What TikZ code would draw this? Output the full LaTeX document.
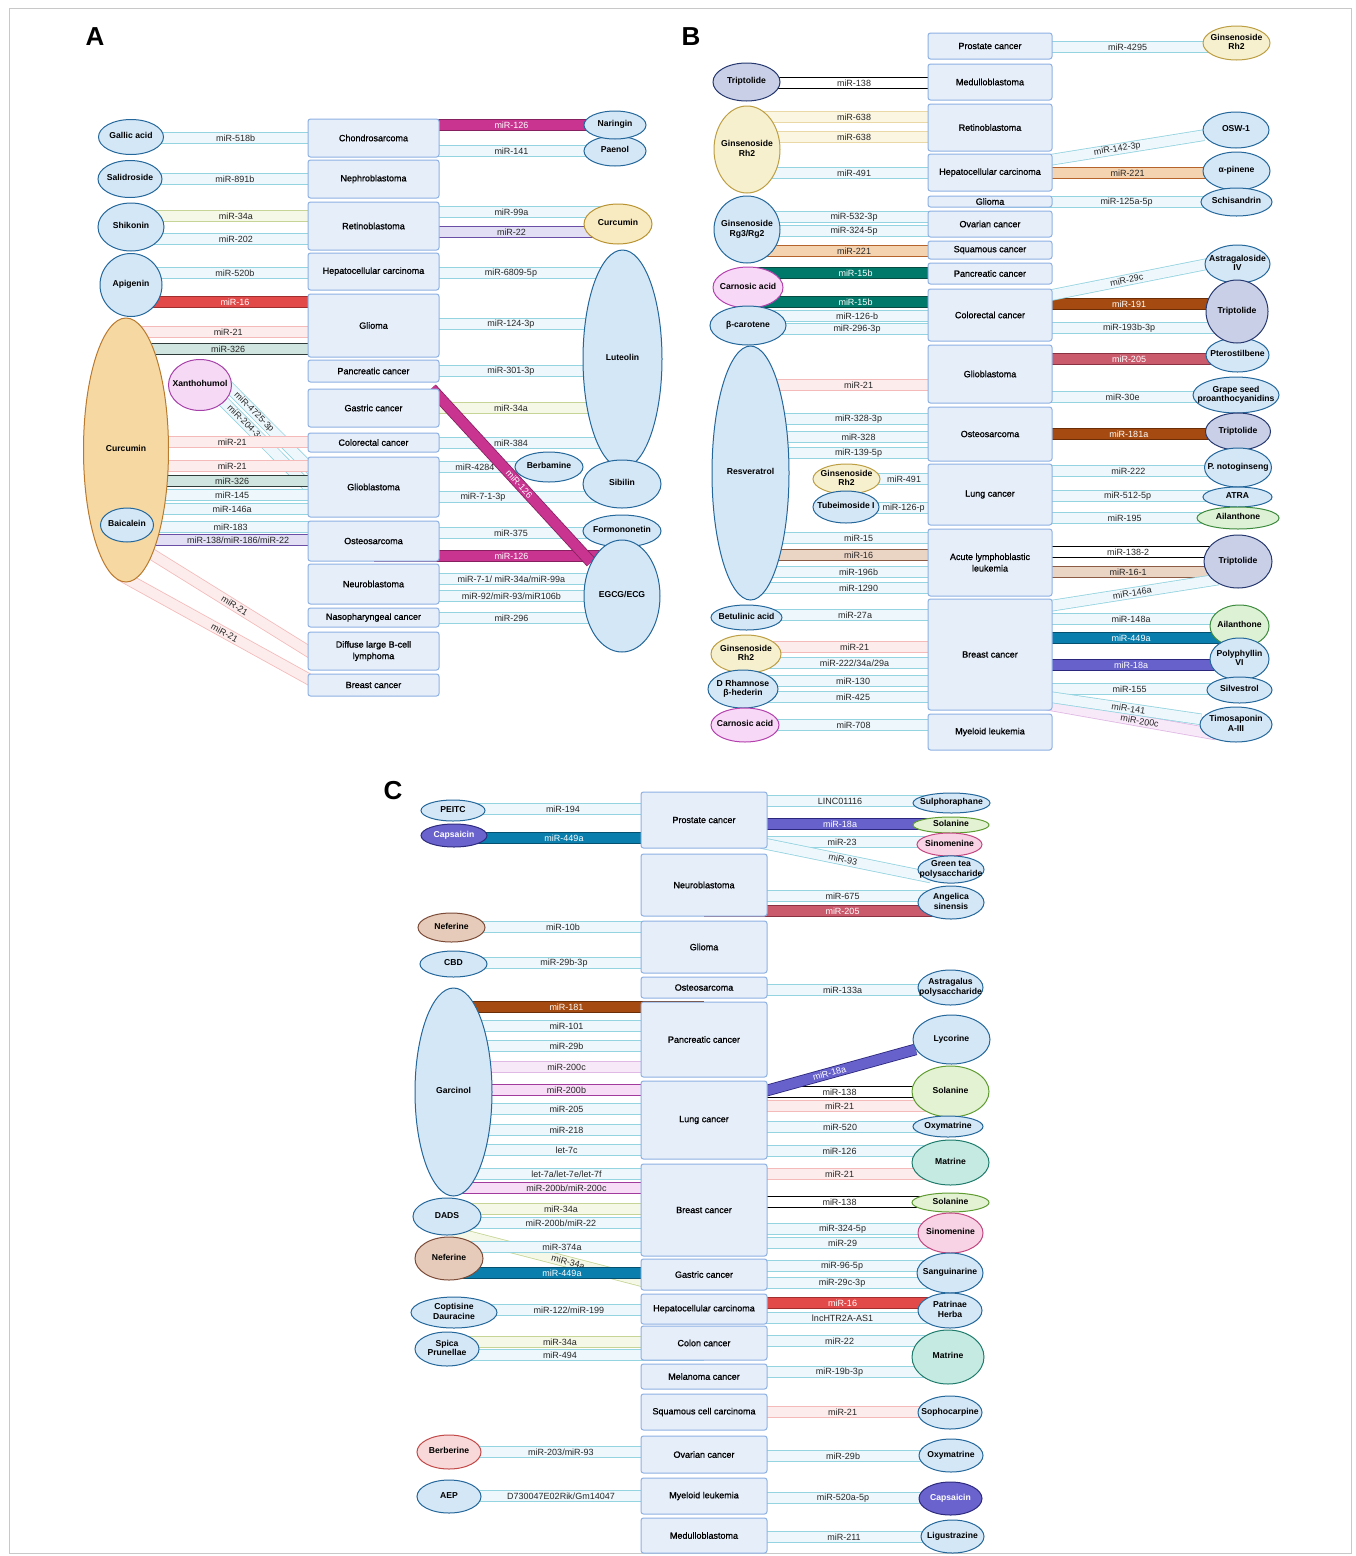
\documentclass[tikz,border=0pt]{standalone}
\usepackage{fontspec}
\setmainfont{Liberation Sans}
\newfontfamily\disfont{Liberation Sans}[FakeBold=1.1]
\usetikzlibrary{shapes.geometric}
\usetikzlibrary{backgrounds}

\definecolor{disfill}{HTML}{E6EEFA}
\definecolor{disline}{HTML}{8EB1E3}
\definecolor{cmpfill}{HTML}{D4E7F7}
\definecolor{cmpline}{HTML}{24679A}
\definecolor{ltfill}{HTML}{EEF8FC}
\definecolor{ltline}{HTML}{94D3E0}
\definecolor{pkfill}{HTML}{FDECEC}
\definecolor{pkline}{HTML}{F4B9B9}
\definecolor{ylfill}{HTML}{F6F8E7}
\definecolor{ylline}{HTML}{C6D596}
\definecolor{redfill}{HTML}{E24A4A}
\definecolor{redline}{HTML}{A12E2E}
\definecolor{magfill}{HTML}{C83490}
\definecolor{magline}{HTML}{86205F}
\definecolor{lavfill}{HTML}{E2DEF4}
\definecolor{lavline}{HTML}{6A4EA6}
\definecolor{sgfill}{HTML}{D0E5DF}
\definecolor{sgline}{HTML}{2F3B38}
\definecolor{crfill}{HTML}{FBF6E2}
\definecolor{crline}{HTML}{EAD9A6}
\definecolor{orfill}{HTML}{F4D3B1}
\definecolor{orline}{HTML}{B5622B}
\definecolor{tlfill}{HTML}{00796B}
\definecolor{tlline}{HTML}{074A42}
\definecolor{brfill}{HTML}{A54A10}
\definecolor{brline}{HTML}{6B2D06}
\definecolor{rsfill}{HTML}{C95B6D}
\definecolor{rsline}{HTML}{8B3242}
\definecolor{bgfill}{HTML}{EAD4C4}
\definecolor{bgline}{HTML}{8B5B46}
\definecolor{bufill}{HTML}{0A7EAD}
\definecolor{buline}{HTML}{05506E}
\definecolor{infill}{HTML}{6761CC}
\definecolor{inline}{HTML}{2B277C}
\definecolor{lifill}{HTML}{F8E9F8}
\definecolor{liline}{HTML}{E0B9E5}
\definecolor{pbfill}{HTML}{F7DDF6}
\definecolor{pbline}{HTML}{A23A9D}
\definecolor{curfill}{HTML}{F6D8A2}
\definecolor{curline}{HTML}{B97A2E}
\definecolor{cu2fill}{HTML}{F8EBC2}
\definecolor{cu2line}{HTML}{B99331}
\definecolor{xanfill}{HTML}{F6D9F5}
\definecolor{xanline}{HTML}{A641A9}
\definecolor{rh2fill}{HTML}{F7F0CF}
\definecolor{rh2line}{HTML}{BC9E43}
\definecolor{trifill}{HTML}{C8CFE6}
\definecolor{triline}{HTML}{26386F}
\definecolor{carfill}{HTML}{F7D8F6}
\definecolor{carline}{HTML}{B441AE}
\definecolor{ailfill}{HTML}{DDF1D5}
\definecolor{ailline}{HTML}{3D8B3D}
\definecolor{solfill}{HTML}{E3F2D3}
\definecolor{solline}{HTML}{5E9C31}
\definecolor{sinfill}{HTML}{F8D3E5}
\definecolor{sinline}{HTML}{C2467F}
\definecolor{capfill}{HTML}{6A63CE}
\definecolor{capline}{HTML}{2D2A7E}
\definecolor{neffill}{HTML}{E6CBBA}
\definecolor{nefline}{HTML}{7C4B37}
\definecolor{berfill}{HTML}{F8D8D8}
\definecolor{berline}{HTML}{C34848}
\definecolor{matfill}{HTML}{C5EAE2}
\definecolor{matline}{HTML}{1F7C6C}
\definecolor{framec}{HTML}{C8C8C8}

% centred text that does not widen the ellipse
\newcommand\cl[1]{\makebox[0pt]{\begin{tabular}{@{}c@{}}#1\end{tabular}}}
% [label options]{band style}{left node}{right node}{y}{label}
\newcommand\band[6][]{%
  \draw[#2] (#3 |- 0,#5) -- (#4 |- 0,#5);
  \path (#3.east |- 0,#5) -- (#4.west |- 0,#5) node[midway, mlab, #1] {#6};}

\tikzset{
    dis_box/.style = {rectangle, rounded corners=2.5pt, draw=disline, fill=disfill, line width=1pt, align=center, inner sep=1pt, font=\disfont\fontsize{9}{11.5}\selectfont},
    dis_a/.style = {dis_box, minimum width=131, minimum height=#1},
    dis_b/.style = {dis_box, minimum width=124, minimum height=#1},
    dis_c/.style = {dis_box, minimum width=126, minimum height=#1},
    cmp/.style 2 args = {ellipse, draw=cmpline, fill=cmpfill, line width=1pt, minimum width=#1, minimum height=#2, inner sep=0pt, font=\bfseries\fontsize{8.6}{9.6}\selectfont},
    in_cur/.style = {draw=curline, fill=curfill},
    in_cu2/.style = {draw=cu2line, fill=cu2fill},
    in_xan/.style = {draw=xanline, fill=xanfill},
    in_rh2/.style = {draw=rh2line, fill=rh2fill},
    in_tri/.style = {draw=triline, fill=trifill},
    in_car/.style = {draw=carline, fill=carfill},
    in_ail/.style = {draw=ailline, fill=ailfill},
    in_sol/.style = {draw=solline, fill=solfill},
    in_sin/.style = {draw=sinline, fill=sinfill},
    in_cap/.style = {draw=capline, fill=capfill, text=white},
    in_nef/.style = {draw=nefline, fill=neffill},
    in_ber/.style = {draw=berline, fill=berfill},
    in_mat/.style = {draw=matline, fill=matfill},
    mlab/.style = {font=\fontsize{9}{9.5}\selectfont, inner sep=0pt, text=black!85},
    band/.style = {line width=0.8pt, double distance=10pt},
    band_lt/.style = {band, draw=ltline, double=ltfill},
    band_pk/.style = {band, draw=pkline, double=pkfill},
    band_yl/.style = {band, draw=ylline, double=ylfill},
    band_red/.style = {band, draw=redline, double=redfill},
    band_mag/.style = {band, draw=magline, double=magfill},
    band_lav/.style = {band, draw=lavline, double=lavfill},
    band_sg/.style = {band, draw=sgline, double=sgfill},
    band_cr/.style = {band, draw=crline, double=crfill},
    band_or/.style = {band, draw=orline, double=orfill},
    band_tl/.style = {band, draw=tlline, double=tlfill},
    band_wt/.style = {band, draw=black, double=white},
    band_br/.style = {band, draw=brline, double=brfill},
    band_rs/.style = {band, draw=rsline, double=rsfill},
    band_bg/.style = {band, draw=bgline, double=bgfill},
    band_bu/.style = {band, draw=buline, double=bufill},
    band_in/.style = {band, draw=inline, double=infill},
    band_li/.style = {band, draw=liline, double=lifill},
    band_pb/.style = {band, draw=pbline, double=pbfill},
    panel/.style = {font=\bfseries\fontsize{26}{28}\selectfont}
}

\begin{document}
\begin{tikzpicture}[x=1pt, y=-1pt]
\useasboundingbox (0,0) rectangle (1356,1556);
\draw[framec, line width=0.8pt] (9,8) rectangle (1351,1553);

%% ---------------- A ----------------
\node[panel] (lab-a) at (95,37) {A};
\node[dis_a=38] (a-chondro) at (373.5,138) {Chondrosarcoma};
\node[dis_a=38] (a-nephro) at (373.5,179) {Nephroblastoma};
\node[dis_a=48] (a-retino) at (373.5,226) {Retinoblastoma};
\node[dis_a=37] (a-hcc) at (373.5,271.5) {Hepatocellular carcinoma};
\node[dis_a=63] (a-glioma) at (373.5,325.5) {Glioma};
\node[dis_a=22] (a-panc) at (373.5,371) {Pancreatic cancer};
\node[dis_a=38] (a-gastric) at (373.5,408) {Gastric cancer};
\node[dis_a=19] (a-crc) at (373.5,442.5) {Colorectal cancer};
\node[dis_a=60] (a-gbm) at (373.5,487) {Glioblastoma};
\node[dis_a=40] (a-osteo) at (373.5,541) {Osteosarcoma};
\node[dis_a=40] (a-neuro) at (373.5,584) {Neuroblastoma};
\node[dis_a=19] (a-naso) at (373.5,617.5) {Nasopharyngeal cancer};
\node[dis_a=38] (a-dlbcl) at (373.5,651) {Diffuse large B-cell\\lymphoma};
\node[dis_a=22] (a-breast) at (373.5,685) {Breast cancer};

\node[cmp={65}{35}] (a-gallic) at (131,137) {\cl{Gallic acid}};
\node[cmp={64}{37}] (a-salid) at (130,179) {\cl{Salidroside}};
\node[cmp={66}{48}] (a-shik) at (131,227) {\cl{Shikonin}};
\node[cmp={62}{63}] (a-api) at (131,285) {\cl{Apigenin}};
\node[cmp={85}{264}, in_cur] (a-cur) at (126,450) {\cl{Curcumin}};
\node[cmp={63}{51}, in_xan] (a-xan) at (200,385) {\cl{Xanthohumol}};
\node[cmp={53}{34}] (a-bai) at (127,525) {\cl{Baicalein}};

\node[cmp={62}{30}] (a-pae) at (615,151) {\cl{Paenol}};
\node[cmp={62}{28}] (a-nar) at (615,125) {\cl{Naringin}};
\node[cmp={68}{40}, in_cu2] (a-cur2) at (618,224) {\cl{Curcumin}};
\node[cmp={79}{218}] (a-lut) at (622.5,359) {\cl{Luteolin}};
\node[cmp={68}{30}] (a-berb) at (549,467) {\cl{Berbamine}};
\node[cmp={78}{48}] (a-sib) at (622,484) {\cl{Sibilin}};
\node[cmp={78}{32}] (a-form) at (622,531) {\cl{Formononetin}};
\node[cmp={76}{112}] (a-egcg) at (622,596) {\cl{EGCG/ECG}};

%% ---------------- B ----------------
\node[panel] (lab-b) at (691,37) {B};
\node[dis_b=26] (b-prost) at (990,46) {Prostate cancer};
\node[dis_b=36] (b-medullo) at (990,82) {Medulloblastoma};
\node[dis_b=47] (b-retino) at (990,127.5) {Retinoblastoma};
\node[dis_b=37] (b-hcc) at (990,172.5) {Hepatocellular carcinoma};
\node[dis_b=11] (b-glioma) at (990,201.5) {Glioma};
\node[dis_b=26] (b-ovar) at (990,224) {Ovarian cancer};
\node[dis_b=18] (b-squam) at (990,250) {Squamous cancer};
\node[dis_b=21] (b-panc) at (990,273.5) {Pancreatic cancer};
\node[dis_b=52] (b-crc) at (990,315) {Colorectal cancer};
\node[dis_b=58] (b-gbm) at (990,374) {Glioblastoma};
\node[dis_b=54] (b-osteo) at (990,434) {Osteosarcoma};
\node[dis_b=61] (b-lung) at (990,494.5) {Lung cancer};
\node[dis_b=67] (b-all) at (990,562.5) {Acute lymphoblastic\\leukemia};
\node[dis_b=111] (b-breast) at (990,654.5) {Breast cancer};
\node[dis_b=36] (b-myel) at (990,732) {Myeloid leukemia};

\node[cmp={67}{38}, in_tri] (b-tripl) at (746.5,82) {\cl{Triptolide}};
\node[cmp={66}{87}, in_rh2] (b-rh2) at (747,149.5) {\cl{Ginsenoside\\Rh2}};
\node[cmp={66}{67}] (b-rg3) at (747,229.5) {\cl{Ginsenoside\\Rg3/Rg2}};
\node[cmp={70}{41}, in_car] (b-carn) at (748,287.5) {\cl{Carnosic acid}};
\node[cmp={76}{39}] (b-bcar) at (748,325.5) {\cl{β-carotene}};
\node[cmp={77}{254}] (b-res) at (750.5,473) {\cl{Resveratrol}};
\node[cmp={67}{30}, in_rh2] (b-rh2b) at (846.5,479) {\cl{Ginsenoside\\Rh2}};
\node[cmp={66}{32}] (b-tube) at (846,507) {\cl{Tubeimoside I}};
\node[cmp={71}{25}] (b-betu) at (746.5,617.5) {\cl{Betulinic acid}};
\node[cmp={70}{38}, in_rh2] (b-rh2c) at (746,654) {\cl{Ginsenoside\\Rh2}};
\node[cmp={70}{38}] (b-rham) at (743,689) {\cl{D Rhamnose\\β-hederin}};
\node[cmp={68}{34}, in_car] (b-carn2) at (745,725) {\cl{Carnosic acid}};

\node[cmp={67}{34}, in_rh2] (b-rh2r) at (1236.5,43) {\cl{Ginsenoside\\Rh2}};
\node[cmp={66}{36}] (b-osw) at (1236,130) {\cl{OSW-1}};
\node[cmp={67}{38}] (b-apin) at (1236.5,171) {\cl{α-pinene}};
\node[cmp={71}{28}] (b-schis) at (1236.5,202) {\cl{Schisandrin}};
\node[cmp={65}{38}] (b-astra) at (1237.5,264) {\cl{Astragaloside\\IV}};
\node[cmp={63}{34}] (b-ptero) at (1237.5,355) {\cl{Pterostilbene}};
\node[cmp={62}{63}, in_tri] (b-tripa) at (1237,311.5) {\cl{Triptolide}};
\node[cmp={86}{36}] (b-grape) at (1236,395) {\cl{Grape seed\\proanthocyanidins}};
\node[cmp={65}{37}, in_tri] (b-tripb) at (1238,431.5) {\cl{Triptolide}};
\node[cmp={67}{39}] (b-pnoto) at (1238,467.5) {\cl{P. notoginseng}};
\node[cmp={69}{20}] (b-atra) at (1237.5,497) {\cl{ATRA}};
\node[cmp={82}{22}, in_ail] (b-ailan) at (1238,518) {\cl{Ailanthone}};
\node[cmp={68}{53}, in_tri] (b-tripc) at (1238,561.5) {\cl{Triptolide}};
\node[cmp={59}{42}, in_ail] (b-ailan2) at (1239.5,626) {\cl{Ailanthone}};
\node[cmp={59}{42}] (b-poly) at (1239.5,659) {\cl{Polyphyllin\\VI}};
\node[cmp={65}{26}] (b-silv) at (1239.5,690) {\cl{Silvestrol}};
\node[cmp={72}{35}] (b-timo) at (1236,724.5) {\cl{Timosaponin\\A-III}};

%% ---------------- C ----------------
\node[panel] (lab-c) at (393,791) {C};
\node[dis_c=56] (c-prost) at (704,820) {Prostate cancer};
\node[dis_c=62] (c-neuro) at (704,885) {Neuroblastoma};
\node[dis_c=52] (c-glioma) at (704,947) {Glioma};
\node[dis_c=21] (c-osteo) at (704,987.5) {Osteosarcoma};
\node[dis_c=75] (c-panc) at (704,1039.5) {Pancreatic cancer};
\node[dis_c=78] (c-lung) at (704,1120) {Lung cancer};
\node[dis_c=92] (c-breast) at (704,1210) {Breast cancer};
\node[dis_c=31] (c-gastric) at (704,1274.5) {Gastric cancer};
\node[dis_c=30] (c-hcc) at (704,1309) {Hepatocellular carcinoma};
\node[dis_c=34] (c-colon) at (704,1343) {Colon cancer};
\node[dis_c=25] (c-melan) at (704,1376.5) {Melanoma cancer};
\node[dis_c=36] (c-squam) at (704,1412) {Squamous cell carcinoma};
\node[dis_c=37] (c-ovar) at (704,1454.5) {Ovarian cancer};
\node[dis_c=36] (c-myel) at (704,1496) {Myeloid leukemia};
\node[dis_c=35] (c-medul) at (704,1535.5) {Medulloblastoma};

\node[cmp={64}{21}] (c-peitc) at (453,810.5) {\cl{PEITC}};
\node[cmp={66}{23}, in_cap] (c-caps) at (454,835.5) {\cl{Capsaicin}};
\node[cmp={67}{29}, in_nef] (c-nef) at (451.5,927.5) {\cl{Neferine}};
\node[cmp={67}{26}] (c-cbd) at (453.5,964) {\cl{CBD}};
\node[cmp={77}{208}] (c-garc) at (453.5,1092) {\cl{Garcinol}};
\node[cmp={68}{37}] (c-dads) at (447,1216.5) {\cl{DADS}};
\node[cmp={68}{43}, in_nef] (c-nef2) at (449,1258.5) {\cl{Neferine}};
\node[cmp={86}{31}] (c-copt) at (454,1312.5) {\cl{Coptisine\\Dauracine}};
\node[cmp={64}{34}] (c-spica) at (447,1349) {\cl{Spica\\Prunellae}};
\node[cmp={64}{34}, in_ber] (c-berb) at (449,1452) {\cl{Berberine}};
\node[cmp={64}{33}] (c-aep) at (449,1496.5) {\cl{AEP}};

\node[cmp={77}{20}] (c-sulph) at (951.5,803) {\cl{Sulphoraphane}};
\node[cmp={76}{16}, in_sol] (c-sol1) at (951,825) {\cl{Solanine}};
\node[cmp={65}{23}, in_sin] (c-sino1) at (949.5,844.5) {\cl{Sinomenine}};
\node[cmp={66}{27}] (c-gtea) at (951,869.5) {\cl{Green tea\\polysaccharide}};
\node[cmp={66}{33}] (c-angel) at (951,902.5) {\cl{Angelica\\sinensis}};
\node[cmp={65}{35}] (c-astrag) at (950.5,987.5) {\cl{Astragalus\\polysaccharide}};
\node[cmp={77}{49}] (c-lyco) at (951.5,1039.5) {\cl{Lycorine}};
\node[cmp={77}{51}, in_sol] (c-sol2) at (950.5,1091.5) {\cl{Solanine}};
\node[cmp={70}{21}] (c-oxy1) at (948,1126.5) {\cl{Oxymatrine}};
\node[cmp={77}{45}, in_mat] (c-mat1) at (950.5,1162.5) {\cl{Matrine}};
\node[cmp={77}{19}, in_sol] (c-sol3) at (950.5,1202.5) {\cl{Solanine}};
\node[cmp={65}{40}, in_sin] (c-sino2) at (950.5,1233) {\cl{Sinomenine}};
\node[cmp={66}{40}] (c-sang) at (950,1273) {\cl{Sanguinarine}};
\node[cmp={64}{35}] (c-patr) at (950,1310.5) {\cl{Patrinae\\Herba}};
\node[cmp={72}{54}, in_mat] (c-mat2) at (948,1357) {\cl{Matrine}};
\node[cmp={64}{33}] (c-soph) at (950,1412.5) {\cl{Sophocarpine}};
\node[cmp={64}{33}] (c-oxy2) at (951,1455.5) {\cl{Oxymatrine}};
\node[cmp={63}{33}, in_cap] (c-caps2) at (950.5,1498.5) {\cl{Capsaicin}};
\node[cmp={63}{33}] (c-ligu) at (952.5,1536.5) {\cl{Ligustrazine}};

%% ---------------- bands ----------------
\begin{scope}[on background layer]
% A
\draw[band_lt] ([shift={(25,-2)}]a-xan.center) -- ([shift={(8,-13)}]a-gbm.west) node[pos=0.32, sloped, mlab] {miR-4725-3p};
\draw[band_lt] ([shift={(15,8)}]a-xan.center) -- ([shift={(8,7)}]a-gbm.west) node[pos=0.3, sloped, mlab] {miR-204-3p};
\band{band_lt}{a-gallic}{a-chondro}{138}{miR-518b}
\band{band_lt}{a-salid}{a-nephro}{179}{miR-891b}
\band{band_yl}{a-shik}{a-retino}{216}{miR-34a}
\band{band_lt}{a-shik}{a-retino}{239}{miR-202}
\band{band_lt}{a-api}{a-hcc}{273}{miR-520b}
\band[text=white]{band_red}{a-api}{a-glioma}{302}{miR-16}
\band[xshift=-10]{band_pk}{a-cur}{a-glioma}{332}{miR-21}
\band[xshift=-10]{band_sg}{a-cur}{a-glioma}{349}{miR-326}
\band[xshift=-6]{band_pk}{a-cur}{a-crc}{442}{miR-21}
\band[xshift=-6]{band_pk}{a-cur}{a-gbm}{466}{miR-21}
\band[xshift=-6]{band_sg}{a-cur}{a-gbm}{481}{miR-326}
\band[xshift=-6]{band_lt}{a-cur}{a-gbm}{495}{miR-145}
\band[xshift=-6]{band_lt}{a-cur}{a-gbm}{509}{miR-146a}
\band{band_lt}{a-bai}{a-osteo}{527}{miR-183}
\band{band_lav}{a-cur}{a-osteo}{540}{miR-138/miR-186/miR-22}
\draw[band_pk] ([shift={(19,100)}]a-cur.center) -- ([shift={(10,6)}]a-dlbcl.west) node[pos=0.52, sloped, mlab] {miR-21};
\draw[band_pk] ([shift={(-6,125)}]a-cur.center) -- ([shift={(10,-1)}]a-breast.west) node[pos=0.53, sloped, mlab] {miR-21};
\band[text=white]{band_mag}{a-chondro}{a-nar}{125}{miR-126}
\band{band_lt}{a-chondro}{a-pae}{151}{miR-141}
\band{band_lt}{a-retino}{a-cur2}{212}{miR-99a}
\band{band_lav}{a-retino}{a-cur2}{232}{miR-22}
\band{band_lt}{a-hcc}{a-lut}{273}{miR-6809-5p}
\band{band_lt}{a-glioma}{a-lut}{324}{miR-124-3p}
\band{band_lt}{a-panc}{a-lut}{371}{miR-301-3p}
\band{band_yl}{a-gastric}{a-lut}{408}{miR-34a}
\band{band_lt}{a-crc}{a-lut}{443}{miR-384}
\band[xshift=-2]{band_lt}{a-gbm}{a-berb}{467}{miR-4284}
\band[xshift=-28]{band_lt}{a-gbm}{a-sib}{497}{miR-7-1-3p}
\band{band_lt}{a-osteo}{a-form}{533}{miR-375}
\band[text=white]{band_mag}{a-osteo}{a-egcg}{556}{miR-126}
\band{band_lt}{a-neuro}{a-egcg}{579}{miR-7-1/ miR-34a/miR-99a}
\band{band_lt}{a-neuro}{a-egcg}{596}{miR-92/miR-93/miR106b}
\band{band_lt}{a-naso}{a-egcg}{618}{miR-296}
\draw[band_mag] ([shift={(-8,0)}]a-gastric.north east) -- (a-egcg) node[pos=0.55, sloped, mlab, text=white] {miR-126};
% B
\band{band_wt}{b-tripl}{b-medullo}{83}{miR-138}
\band{band_cr}{b-rh2}{b-retino}{117}{miR-638}
\band{band_cr}{b-rh2}{b-retino}{137}{miR-638}
\band{band_lt}{b-rh2}{b-hcc}{173}{miR-491}
\band{band_lt}{b-rg3}{b-ovar}{217}{miR-532-3p}
\band{band_lt}{b-rg3}{b-ovar}{231}{miR-324-5p}
\band{band_or}{b-rg3}{b-squam}{251}{miR-221}
\band[text=white]{band_tl}{b-carn}{b-panc}{273}{miR-15b}
\band[text=white]{band_tl}{b-carn}{b-crc}{302}{miR-15b}
\band{band_lt}{b-bcar}{b-crc}{316}{miR-126-b}
\band{band_lt}{b-bcar}{b-crc}{329}{miR-296-3p}
\band{band_pk}{b-res}{b-gbm}{385}{miR-21}
\band{band_lt}{b-res}{b-osteo}{419}{miR-328-3p}
\band{band_lt}{b-res}{b-osteo}{437}{miR-328}
\band{band_lt}{b-res}{b-osteo}{453}{miR-139-5p}
\band{band_lt}{b-rh2b}{b-lung}{479}{miR-491}
\band{band_lt}{b-tube}{b-lung}{508}{miR-126-p}
\band{band_lt}{b-res}{b-all}{538}{miR-15}
\band{band_bg}{b-res}{b-all}{555}{miR-16}
\band{band_lt}{b-res}{b-all}{572}{miR-196b}
\band{band_lt}{b-res}{b-all}{588}{miR-1290}
\band{band_lt}{b-betu}{b-breast}{615}{miR-27a}
\band{band_pk}{b-rh2c}{b-breast}{647}{miR-21}
\band{band_lt}{b-rh2c}{b-breast}{663}{miR-222/34a/29a}
\band{band_lt}{b-rham}{b-breast}{681}{miR-130}
\band{band_lt}{b-rham}{b-breast}{697}{miR-425}
\band{band_lt}{b-carn2}{b-myel}{725}{miR-708}
\band{band_lt}{b-prost}{b-rh2r}{47}{miR-4295}
\band{band_or}{b-hcc}{b-apin}{173}{miR-221}
\band{band_lt}{b-glioma}{b-schis}{202}{miR-125a-5p}
\band[text=white]{band_br}{b-crc}{b-tripa}{304}{miR-191}
\band{band_lt}{b-crc}{b-tripa}{328}{miR-193b-3p}
\band[text=white]{band_rs}{b-gbm}{b-ptero}{359}{miR-205}
\band{band_lt}{b-gbm}{b-grape}{397}{miR-30e}
\band[text=white]{band_br}{b-osteo}{b-tripb}{434}{miR-181a}
\band{band_lt}{b-lung}{b-pnoto}{471}{miR-222}
\band{band_lt}{b-lung}{b-atra}{496}{miR-512-5p}
\band{band_lt}{b-lung}{b-ailan}{518}{miR-195}
\band{band_wt}{b-all}{b-tripc}{552}{miR-138-2}
\band{band_bg}{b-all}{b-tripc}{572}{miR-16-1}
\band{band_lt}{b-breast}{b-ailan2}{619}{miR-148a}
\band[text=white]{band_bu}{b-breast}{b-ailan2}{638}{miR-449a}
\band[text=white]{band_in}{b-breast}{b-poly}{665}{miR-18a}
\band{band_lt}{b-breast}{b-silv}{689}{miR-155}
\draw[band_lt] ([shift={(-6,-12)}]b-hcc.east) -- (b-osw) node[pos=0.45, sloped, mlab] {miR-142-3p};
\draw[band_lt] ([shift={(-6,-19)}]b-crc.east) -- ([shift={(0,-6)}]b-astra.center) node[pos=0.42, sloped, mlab] {miR-29c};
\draw[band_lt] ([shift={(-6,-48)}]b-breast.east) -- ([shift={(-20,18)}]b-tripc.center) node[pos=0.5, sloped, mlab] {miR-146a};
\draw[band_li] ([shift={(-6,50)}]b-breast.east) -- ([shift={(-20,10)}]b-timo.center) node[pos=0.55, sloped, mlab] {miR-200c};
\draw[band_lt] ([shift={(-6,42)}]b-breast.east) -- (b-timo) node[pos=0.53, sloped, mlab] {miR-141};
% C
\draw[band_yl] ([shift={(5,15.5)}]c-dads.center) -- ([shift={(5,7.5)}]c-gastric.west) node[pos=0.6, sloped, mlab] {miR-34a};
\band{band_lt}{c-peitc}{c-prost}{809}{miR-194}
\band[text=white]{band_bu}{c-caps}{c-prost}{838}{miR-449a}
\band{band_lt}{c-nef}{c-glioma}{927}{miR-10b}
\band{band_lt}{c-cbd}{c-glioma}{963}{miR-29b-3p}
\band[text=white]{band_br}{c-garc}{c-panc}{1007}{miR-181}
\band{band_lt}{c-garc}{c-panc}{1026}{miR-101}
\band{band_lt}{c-garc}{c-panc}{1046}{miR-29b}
\band{band_li}{c-garc}{c-panc}{1067}{miR-200c}
\band{band_pb}{c-garc}{c-lung}{1090}{miR-200b}
\band{band_lt}{c-garc}{c-lung}{1109}{miR-205}
\band{band_lt}{c-garc}{c-lung}{1130}{miR-218}
\band{band_lt}{c-garc}{c-lung}{1150}{let-7c}
\band{band_lt}{c-garc}{c-breast}{1174}{let-7a/let-7e/let-7f}
\band{band_pb}{c-garc}{c-breast}{1188}{miR-200b/miR-200c}
\band{band_yl}{c-dads}{c-breast}{1209}{miR-34a}
\band{band_lt}{c-dads}{c-breast}{1223}{miR-200b/miR-22}
\band{band_lt}{c-nef2}{c-breast}{1247}{miR-374a}
\band[text=white]{band_bu}{c-nef2}{c-gastric}{1273}{miR-449a}
\band{band_lt}{c-copt}{c-hcc}{1310}{miR-122/miR-199}
\band{band_yl}{c-spica}{c-colon}{1342}{miR-34a}
\band{band_lt}{c-spica}{c-colon}{1355}{miR-494}
\band{band_lt}{c-berb}{c-ovar}{1452}{miR-203/miR-93}
\band{band_lt}{c-aep}{c-myel}{1496}{D730047E02Rik/Gm14047}
\band{band_lt}{c-prost}{c-sulph}{801}{LINC01116}
\band[text=white]{band_in}{c-prost}{c-sol1}{824}{miR-18a}
\band{band_lt}{c-prost}{c-sino1}{842}{miR-23}
\band{band_lt}{c-neuro}{c-angel}{896}{miR-675}
\band[text=white]{band_rs}{c-neuro}{c-angel}{911}{miR-205}
\band{band_lt}{c-osteo}{c-astrag}{990}{miR-133a}
\band{band_wt}{c-lung}{c-sol2}{1092}{miR-138}
\band{band_pk}{c-lung}{c-sol2}{1106}{miR-21}
\band{band_lt}{c-lung}{c-oxy1}{1127}{miR-520}
\band{band_lt}{c-lung}{c-mat1}{1151}{miR-126}
\band{band_pk}{c-breast}{c-mat1}{1174}{miR-21}
\band{band_wt}{c-breast}{c-sol3}{1202}{miR-138}
\band{band_lt}{c-breast}{c-sino2}{1229}{miR-324-5p}
\band{band_lt}{c-breast}{c-sino2}{1243}{miR-29}
\band{band_lt}{c-gastric}{c-sang}{1266}{miR-96-5p}
\band{band_lt}{c-gastric}{c-sang}{1283}{miR-29c-3p}
\band[text=white]{band_red}{c-hcc}{c-patr}{1303}{miR-16}
\band{band_lt}{c-hcc}{c-patr}{1318}{lncHTR2A-AS1}
\band{band_lt}{c-colon}{c-mat2}{1341}{miR-22}
\band{band_lt}{c-melan}{c-mat2}{1372}{miR-19b-3p}
\band{band_pk}{c-squam}{c-soph}{1412}{miR-21}
\band{band_lt}{c-ovar}{c-oxy2}{1456}{miR-29b}
\band{band_lt}{c-myel}{c-caps2}{1498}{miR-520a-5p}
\band{band_lt}{c-medul}{c-ligu}{1537}{miR-211}
\draw[band_lt] ([shift={(-6,23)}]c-prost.east) -- ([shift={(-20,8)}]c-gtea.center) node[pos=0.48, sloped, mlab] {miR-93};
\draw[band_in] ([shift={(-6,-28)}]c-lung.east) -- (c-lyco) node[pos=0.44, sloped, mlab, text=white] {miR-18a};
\end{scope}
\end{tikzpicture}
\end{document}
